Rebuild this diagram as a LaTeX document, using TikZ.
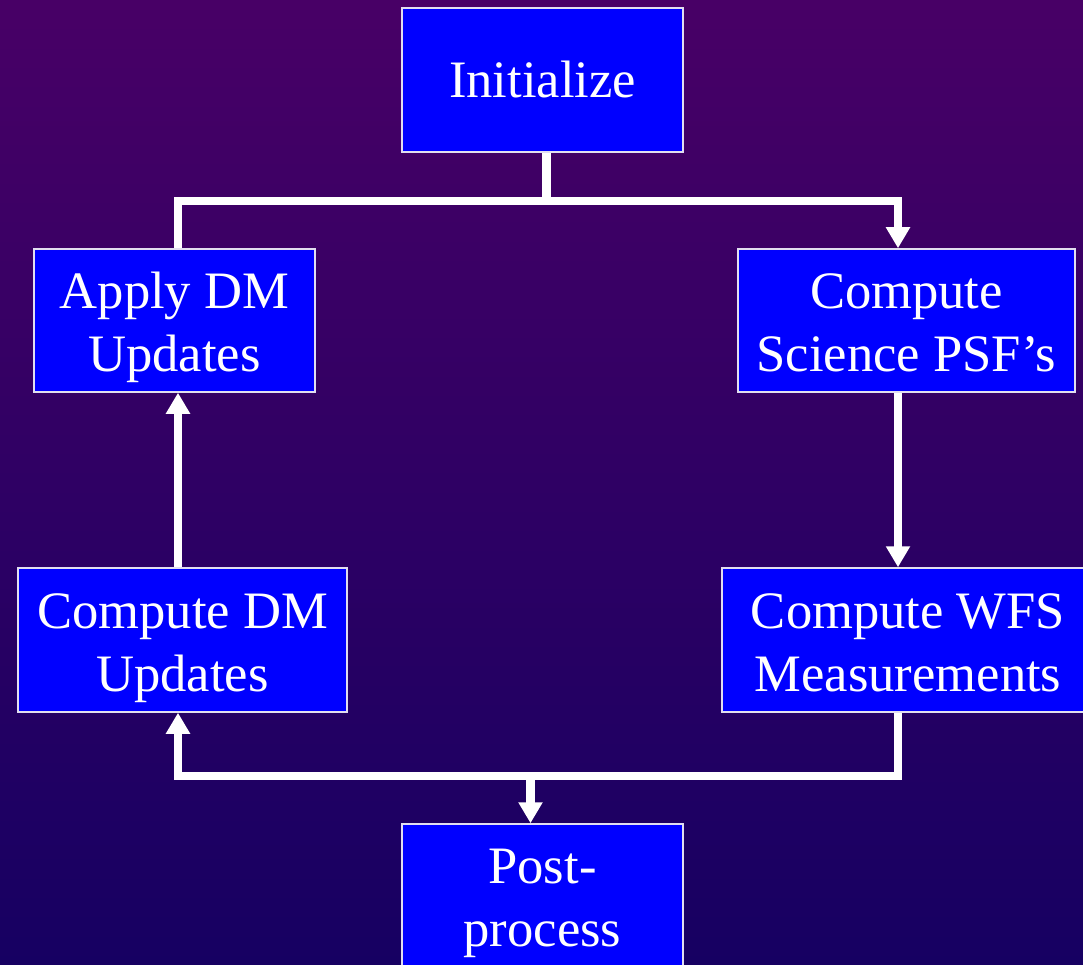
\documentclass[tikz,border=0pt]{standalone}
\usepackage{fontspec}
\setmainfont{Liberation Serif}
\usetikzlibrary{arrows.meta}

\definecolor{bgtop}{RGB}{72,0,102}
\definecolor{bgbottom}{RGB}{22,0,98}
\definecolor{boxblue}{RGB}{0,0,255}
\definecolor{rimwhite}{RGB}{225,222,240}

\begin{document}
\begin{tikzpicture}[
    % One unit is one point, and y runs downwards like the page.
    x={(1pt,0pt)},
    y={(0pt,-1pt)}
]
    % --- Style Definitions ---
    % 'stage' is a blue box of the loop, 'twoline' gives two-line text a fixed depth,
    % \lift gives its first line a fixed height.
    % 'link' is a thick white connector.
    \tikzstyle{stage} = [draw=rimwhite, line width=1.5pt, fill=boxblue, text=white,
        align=center, inner sep=4pt, font=\fontsize{52.6}{63}\selectfont]
    \tikzstyle{twoline} = [execute at end node={\rule[-12pt]{0pt}{12pt}}]
    \tikzstyle{link} = [draw=white, line width=8.5pt, line join=miter]
    \tikzstyle{into} = [-{Triangle[width=23pt,length=21pt]}]
    \def\lift{\rule{0pt}{51pt}}

    % --- Background ---
    \useasboundingbox (0,0) rectangle (1083,965);
    \shade[top color=bgtop, bottom color=bgbottom] (0,0) rectangle (1083,965);

    % --- Stages ---
    \node[stage, minimum width=281, minimum height=144] (init) at (542.5,80) {Initialize};
    \node[stage, twoline, minimum width=281, minimum height=143] (adm) at (174.5,320.5) {\lift Apply DM\\Updates};
    \node[stage, twoline, minimum width=337, minimum height=143] (psf) at (906.5,320.5) {\lift Compute\\Science PSF’s};
    \node[stage, twoline, minimum width=329, minimum height=144] (cdm) at (182.5,640) {\lift Compute DM\\Updates};
    \node[stage, twoline, minimum width=372, minimum height=144] (wfs) at (908,640) {\lift Compute WFS\\Measurements};
    \node[stage, twoline, minimum width=281, minimum height=143] (post) at (542.5,895.5) {\lift Post-\\process};

    % --- Routing Coordinates ---
    % Columns of the vertical runs and rows of the two buses.
    \coordinate (lx) at (178,0);
    \coordinate (rx) at (898,0);
    \coordinate (ix) at (546.5,0);
    \coordinate (px) at (530.5,0);
    \coordinate (topbus) at (0,201);
    \coordinate (lowbus) at (0,776);

    % --- Connectors ---
    \draw[link] (init.south -| ix) -- (topbus -| ix);
    \draw[link, into] (adm.north -| lx) |- (topbus -| rx) -- (psf.north -| rx);
    \draw[link, into] (psf.south -| rx) -- (wfs.north -| rx);
    \draw[link, into] (wfs.south -| rx) |- (lowbus -| lx) -- (cdm.south -| lx);
    \draw[link, into] (lowbus -| px) -- (post.north -| px);
    \draw[link, into] (cdm.north -| lx) -- (adm.south -| lx);
\end{tikzpicture}
\end{document}
